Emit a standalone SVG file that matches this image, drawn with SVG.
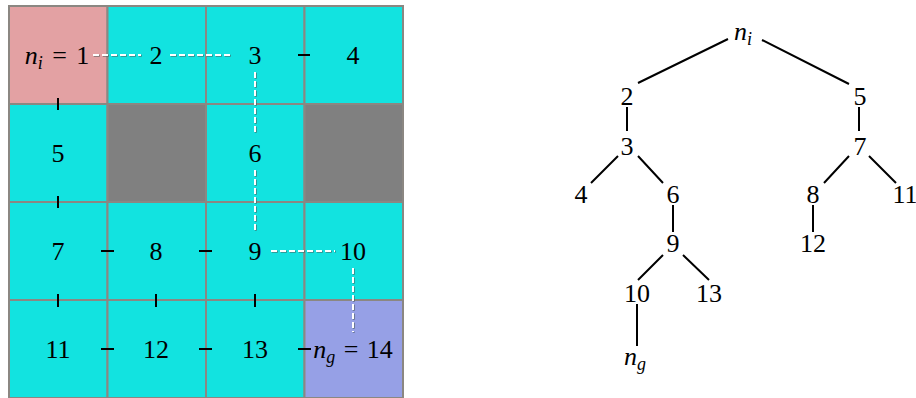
<svg xmlns="http://www.w3.org/2000/svg" width="916" height="398" viewBox="0 0 916 398">
<style>
.cell{stroke:#8b8782;stroke-width:2}
.cy{fill:#12e3e0}
.pk{fill:#e3a1a3}
.gr{fill:#808080}
.bl{fill:#96a0e6}
text{font-family:"Liberation Serif","Times New Roman",serif;font-size:26px;fill:#000;text-anchor:middle}
.it{font-style:italic}
.sub{font-size:18px;font-style:italic}
.tick{stroke:#000;stroke-width:2;fill:none}
.edge{stroke:#000;stroke-width:2;fill:none}
.pshadow{stroke:#4a5a5a;stroke-width:2;stroke-dasharray:6 3;fill:none;opacity:0.7}
.path{stroke:#fff;stroke-width:2;stroke-dasharray:6 3;fill:none}
</style>
<rect width="916" height="398" fill="#fff"/>
<g id="grid">
<g id="c1"><rect class="cell pk" x="9" y="6" width="98.5" height="98"/><text x="57" y="64"><tspan class="it">n</tspan><tspan class="sub" dy="5">i</tspan><tspan dy="-5" dx="3"> =</tspan><tspan dx="3"> 1</tspan></text></g>
<g id="c2"><rect class="cell cy" x="107.5" y="6" width="98.5" height="98"/><text x="156" y="64">2</text></g>
<g id="c3"><rect class="cell cy" x="206" y="6" width="98.5" height="98"/><text x="255" y="64">3</text></g>
<g id="c4"><rect class="cell cy" x="304.5" y="6" width="98.5" height="98"/><text x="353" y="64">4</text></g>
<g id="c5"><rect class="cell cy" x="9" y="104" width="98.5" height="98"/><text x="58" y="162">5</text></g>
<g id="o1"><rect class="cell gr" x="107.5" y="104" width="98.5" height="98"/></g>
<g id="c6"><rect class="cell cy" x="206" y="104" width="98.5" height="98"/><text x="255" y="162">6</text></g>
<g id="o2"><rect class="cell gr" x="304.5" y="104" width="98.5" height="98"/></g>
<g id="c7"><rect class="cell cy" x="9" y="202" width="98.5" height="98"/><text x="58" y="260">7</text></g>
<g id="c8"><rect class="cell cy" x="107.5" y="202" width="98.5" height="98"/><text x="156" y="260">8</text></g>
<g id="c9"><rect class="cell cy" x="206" y="202" width="98.5" height="98"/><text x="255" y="260">9</text></g>
<g id="c10"><rect class="cell cy" x="304.5" y="202" width="98.5" height="98"/><text x="353" y="260">10</text></g>
<g id="c11"><rect class="cell cy" x="9" y="300" width="98.5" height="98"/><text x="58" y="358">11</text></g>
<g id="c12"><rect class="cell cy" x="107.5" y="300" width="98.5" height="98"/><text x="156" y="358">12</text></g>
<g id="c13"><rect class="cell cy" x="206" y="300" width="98.5" height="98"/><text x="255" y="358">13</text></g>
<g id="c14"><rect class="cell bl" x="304.5" y="300" width="98.5" height="98"/><text x="353" y="358"><tspan class="it">n</tspan><tspan class="sub" dy="5">g</tspan><tspan dy="-5" dx="2"> =</tspan><tspan dx="2"> 14</tspan></text></g>
</g>
<g id="connectors">
<path class="tick" d="M298 55H310 M58 98V110 M58 196V208 M101 251H114 M199 251H212 M58 294V307 M156 294V307 M255 294V307 M101 349H114 M199 349H212 M298 349H311"/>
<path class="pshadow" transform="translate(0.8,0.8)" d="M93 55H141 M170 55H233 M255 72V135 M255 170V233 M271 251H335 M353 268V332"/>
<path class="path" d="M93 55H141 M170 55H233 M255 72V135 M255 170V233 M271 251H335 M353 268V332"/>
<path class="edge" d="M728 39L638 83 M762 40L849 84 M627 107V131 M859 107V131 M618 156L591 183 M638 156L663 183 M849 156L824 183 M869 156L896 183 M673 205V232 M813 205V232 M663 255L638 280 M683 255L709 280 M637 304V346"/>
</g>
<g id="tree">
<g id="t_ni"><text x="743" y="40"><tspan class="it">n</tspan><tspan class="sub" dy="5">i</tspan></text></g>
<g id="t2"><text x="627" y="105">2</text></g>
<g id="t5"><text x="860" y="105">5</text></g>
<g id="t3"><text x="627" y="155">3</text></g>
<g id="t7"><text x="860" y="155">7</text></g>
<g id="t4"><text x="581" y="203">4</text></g>
<g id="t6"><text x="673" y="203">6</text></g>
<g id="t8"><text x="813" y="203">8</text></g>
<g id="t11"><text x="905" y="203">11</text></g>
<g id="t9"><text x="673" y="252">9</text></g>
<g id="t12"><text x="813" y="252">12</text></g>
<g id="t10"><text x="637" y="302">10</text></g>
<g id="t13"><text x="709" y="302">13</text></g>
<g id="t_ng"><text x="635" y="365"><tspan class="it">n</tspan><tspan class="sub" dy="5">g</tspan></text></g>
</g>
</svg>
